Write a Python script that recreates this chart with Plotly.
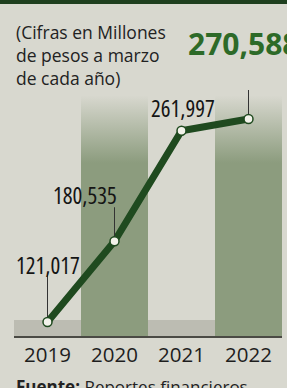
import plotly.graph_objects as go

years = ["2019", "2020", "2021", "2022"]
values = [121017, 180535, 261997, 270588]
labels = ["121,017", "180,535", "261,997", "270,588"]

BG = "#d8d8cf"
GREEN_BAND = "#8c9c7e"
LINE = "#1f4a1f"
FONT = "Open Sans, sans-serif"


def cond(t):
    return f'<span style="font-stretch:condensed">{t}</span>'


xs = list(range(len(years)))
ymin, ymax = 110700, 292000
PX = 737  # value units per pixel

fig = go.Figure()

# column bands (green for 2020 & 2022 with vertical fade at top)
for i in xs:
    if i % 2 == 1:
        fig.add_trace(go.Scatter(
            x=[i - 0.5, i + 0.5, i + 0.5, i - 0.5, i - 0.5],
            y=[ymin, ymin, ymax - 4000, ymax - 4000, ymin],
            fill="toself", mode="none", hoverinfo="skip", showlegend=False,
            fillgradient=dict(type="vertical",
                              colorscale=[[0, GREEN_BAND], [0.72, GREEN_BAND],
                                          [1.0, "rgba(140,156,126,0)"]]),
        ))
    else:
        fig.add_shape(type="rect", xref="x", yref="y",
                      x0=i - 0.5, x1=i + 0.5, y0=ymin, y1=ymin + 11800,
                      fillcolor="#bcbcb2", line_width=0, layer="below")

# main line
fig.add_trace(go.Scatter(
    x=xs, y=values, mode="lines+markers",
    line=dict(color=LINE, width=7),
    marker=dict(size=9, color="#f2f2ea", line=dict(color=LINE, width=1.5)),
    hoverinfo="skip", showlegend=False,
))

# leader lines
lead = {0: (5, 47), 1: (5, 34), 3: (5, 64)}
for i, (g0, g1) in lead.items():
    fig.add_shape(type="line", xref="x", yref="y", x0=i, x1=i,
                  y0=values[i] + g0 * PX, y1=values[i] + g1 * PX,
                  line=dict(color="#333", width=1))

# value labels
offs = [(0, 57), (-30, 46), (1, 23)]
for i, (dx, dy) in enumerate(offs):
    fig.add_annotation(x=i, y=values[i], xshift=dx, yshift=dy, text=cond(labels[i]),
                       showarrow=False,
                       font=dict(size=23, color="#151515", family=FONT))
fig.add_annotation(x=3, y=values[3], xshift=-5, yshift=76, text=f"<b>{labels[3]}</b>",
                   showarrow=False,
                   font=dict(size=30, color="#2d6a28", family=FONT, weight=800))

# note text
fig.add_annotation(xref="paper", yref="paper", x=0.0, y=1.292, xanchor="left",
                   yanchor="top", align="left", showarrow=False,
                   text="(Cifras en Millones<br>de pesos a marzo<br>de cada año)",
                   font=dict(size=17.5, color="#222", family=FONT))

# source
fig.add_annotation(xref="paper", yref="paper", x=0.0, y=-0.15, xanchor="left",
                   yanchor="top", align="left", showarrow=False,
                   text="<b>Fuente:</b> Reportes financieros",
                   font=dict(size=17, color="#222", family=FONT))

# top dark band
fig.add_shape(type="rect", xref="paper", yref="paper", x0=-0.1, x1=1.1,
              y0=1.35, y1=1.4, fillcolor="#1e3f1e", line_width=0)

fig.update_layout(
    width=287, height=388,
    margin=dict(l=14, r=5, t=90, b=52),
    paper_bgcolor=BG, plot_bgcolor=BG,
    xaxis=dict(range=[-0.5, 3.5], tickmode="array", tickvals=xs, ticktext=years,
               showgrid=False, zeroline=False, showline=True,
               linecolor="#4a4a44", linewidth=1.5, ticks="", automargin=False,
               tickfont=dict(size=20.5, color="#1e1e1e", family=FONT)),
    yaxis=dict(range=[ymin, ymax], visible=False, showgrid=False),
)

fig.write_html("out.html", config={"displayModeBar": False},
               post_script="document.body.style.margin='0';")
